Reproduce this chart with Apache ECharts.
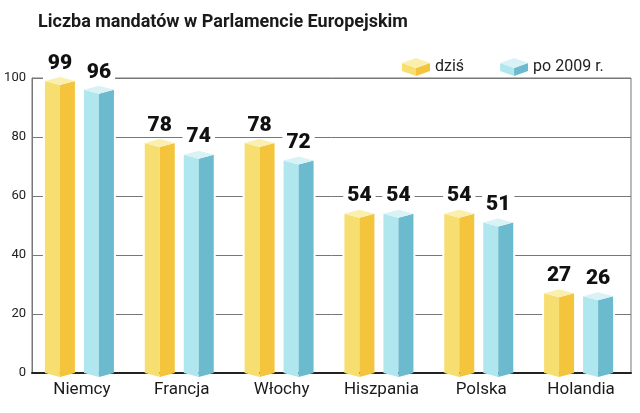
<!DOCTYPE html>
<html style="height: 100%;margin: 0;padding: 0;">
<head>
    <meta charset="utf-8">
    <title>Liczba mandatów w Parlamencie Europejskim</title>
    <script src="https://cdn.jsdelivr.net/npm/echarts@6/dist/echarts.min.js"></script>
</head>
<body style="height: 100%;margin: 0;padding: 0;background:#fff;">
<div id="main" style="width:640px;height:413px"></div>
<script type="text/javascript">
    // dane z wykresu
    var kraje = ['Niemcy', 'Francja', 'Włochy', 'Hiszpania', 'Polska', 'Holandia'];
    var dzis = [99, 78, 78, 54, 54, 27];
    var po2009 = [96, 74, 72, 54, 51, 26];
    var osY = [0, 20, 40, 60, 80, 100];

    // kolory scian: [lewa, prawa, gora]
    var zolty = ['#f6df70', '#f3c43c', '#fbefae'];
    var niebieski = ['#b0e7ee', '#6cbacd', '#d8f2f5'];

    function ikona(k) {
        var svg = '<svg xmlns="http://www.w3.org/2000/svg" width="28" height="18" viewBox="0 0 28 18">' +
            '<polygon points="0,5 14,10 14,18 0,13" fill="' + k[0] + '"/>' +
            '<polygon points="14,10 28,5 28,13 14,18" fill="' + k[1] + '"/>' +
            '<polygon points="0,5 14,0 28,5 14,10" fill="' + k[2] + '"/>' +
            '</svg>';
        return 'image://data:image/svg+xml;charset=utf-8,' + encodeURIComponent(svg);
    }

    // slupek w formie graniastoslupa (krawedz z przodu)
    // dodatek = ile bialego tla dolozyc z prawej (przerwa miedzy slupkami)
    function slupek(przesun, k, dodatek) {
        return function (params, api) {
            var top = api.coord([api.value(0), api.value(1)]);
            var base = api.coord([api.value(0), 0]);
            var cx = top[0] + przesun;
            var w = 15, d = 4;
            var y = top[1], b = base[1];
            return {
                type: 'group',
                children: [
                    {   // biale tlo zaslaniajace linie siatki
                        type: 'rect',
                        shape: {x: cx - w - 2, y: y - d, width: 2 * w + 4 + dodatek, height: b - y + d - 1},
                        style: {fill: '#fff'}
                    },
                    {
                        type: 'polygon',
                        shape: {points: [[cx - w, y], [cx, y + d], [cx, b + d], [cx - w, b]]},
                        style: {fill: k[0]}
                    },
                    {
                        type: 'polygon',
                        shape: {points: [[cx, y + d], [cx + w, y], [cx + w, b], [cx, b + d]]},
                        style: {fill: k[1]}
                    },
                    {
                        type: 'polygon',
                        shape: {points: [[cx - w, y], [cx, y - d], [cx + w, y], [cx, y + d]]},
                        style: {fill: k[2]}
                    },
                    {
                        type: 'text',
                        style: {
                            text: String(api.value(1)),
                            x: cx,
                            y: y - d - 3,
                            align: 'center',
                            verticalAlign: 'bottom',
                            fontSize: 21,
                            fontWeight: 900,
                            fontFamily: 'Roboto',
                            fill: '#111',
                            backgroundColor: '#fff',
                            padding: [0, 4, 0, 4]
                        }
                    }
                ]
            };
        };
    }

    var myChart = echarts.init(document.getElementById('main'));
    var option = {
        animation: false,
        title: {
            text: 'Liczba mandatów w Parlamencie Europejskim',
            left: 33,
            top: 8,
            textStyle: {fontSize: 18, fontWeight: 'bold', color: '#1a1a1a', fontFamily: 'Roboto'}
        },
        legend: {
            left: 397,
            top: 53,
            itemWidth: 28,
            itemHeight: 18,
            itemGap: 36,
            textStyle: {fontSize: 16, color: '#222', fontFamily: 'Roboto'},
            data: [
                {name: 'dziś', icon: ikona(zolty)},
                {name: 'po 2009 r.', icon: ikona(niebieski)}
            ]
        },
        grid: {
            left: 32, right: 9, top: 78, bottom: 40,
            show: true, borderColor: '#777', borderWidth: 1
        },
        xAxis: {
            type: 'category',
            data: kraje,
            boundaryGap: true,
            axisLine: {lineStyle: {color: '#222', width: 2}},
            axisTick: {inside: true, length: 7, lineStyle: {color: '#222'}},
            axisLabel: {fontSize: 17, color: '#1a1a1a', margin: 8, fontFamily: 'Roboto'}
        },
        yAxis: {
            type: 'value',
            min: osY[0],
            max: osY[osY.length - 1],
            interval: osY[1] - osY[0],
            axisLine: {show: true, lineStyle: {color: '#777'}},
            axisTick: {show: false},
            splitLine: {lineStyle: {color: '#777'}},
            axisLabel: {fontSize: 13, color: '#222', margin: 6, fontFamily: 'Roboto'}
        },
        series: [
            {
                name: 'dziś',
                type: 'custom',
                itemStyle: {color: zolty[1]},
                renderItem: slupek(-22, zolty, 9),
                encode: {x: 0, y: 1},
                data: dzis.map(function (v, i) { return [i, v]; })
            },
            {
                name: 'po 2009 r.',
                type: 'custom',
                itemStyle: {color: niebieski[1]},
                renderItem: slupek(17, niebieski, 0),
                encode: {x: 0, y: 1},
                data: po2009.map(function (v, i) { return [i, v]; })
            }
        ]
    };
    myChart.setOption(option);
</script>
</body>
</html>
